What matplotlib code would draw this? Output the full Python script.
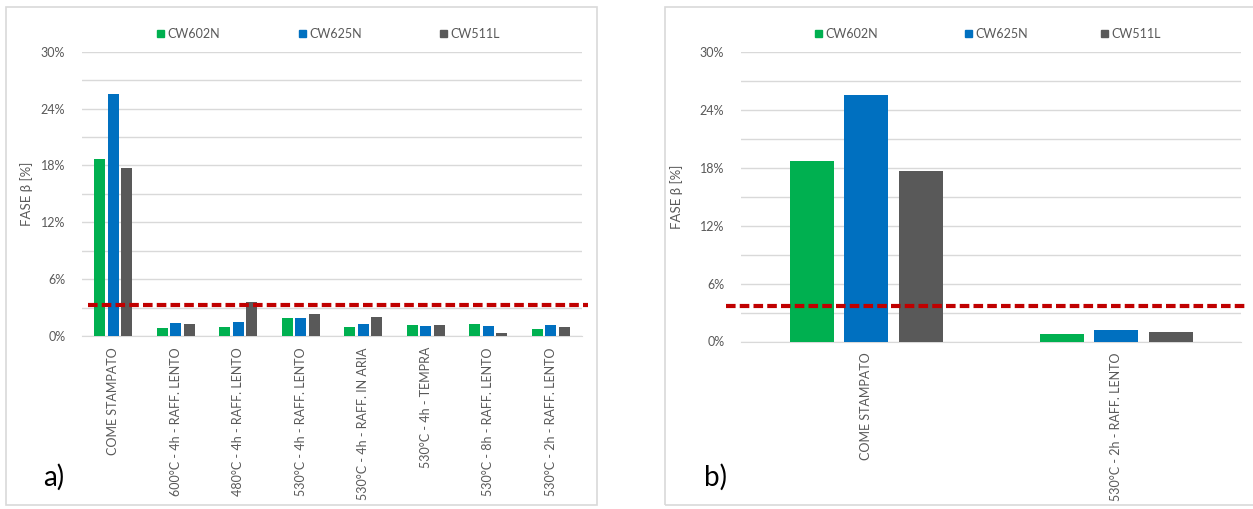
import matplotlib
matplotlib.use("Agg")
import matplotlib.pyplot as plt
import numpy as np
from matplotlib.patches import Rectangle
from matplotlib.ticker import FuncFormatter, MultipleLocator

plt.rcParams['font.family'] = ['Lato', 'DejaVu Sans']

# Heat-treatment conditions
categories_a = [
    "COME STAMPATO",
    "600°C - 4h - RAFF. LENTO",
    "480°C - 4h - RAFF. LENTO",
    "530°C - 4h - RAFF. LENTO",
    "530°C - 4h - RAFF. IN ARIA",
    "530°C - 4h - TEMPRA",
    "530°C - 8h - RAFF. LENTO",
    "530°C - 2h - RAFF. LENTO",
]
series_names = ["CW602N", "CW625N", "CW511L"]

# beta-phase content [%] for each alloy
cw602n = [18.65, 0.8, 0.9, 1.9, 1.0, 1.15, 1.25, 0.75]
cw625n = [25.5, 1.35, 1.5, 1.85, 1.27, 1.1, 1.1, 1.18]
cw511l = [17.7, 1.3, 3.55, 2.3, 2.0, 1.2, 0.35, 1.0]

# panel b: as-cast vs. the selected treatment
categories_b = ["COME STAMPATO", "530°C - 2h - RAFF. LENTO"]
idx_b = [0, 7]

# threshold lines
threshold_a = 3.25
threshold_b = 3.7

colors = ["#00B050", "#0070C0", "#595959"]
text_gray = "#595959"
grid_gray = "#D9D9D9"
red = "#C00000"

W, H = 1253, 509
fig = plt.figure(figsize=(W / 100, H / 100), dpi=100)


def fx(px):
    return px / W


def fy(py):
    return 1 - py / H


# panel frames
fig.patches.append(Rectangle((fx(6), fy(505)), fx(597 - 6), (505 - 7) / H,
                             transform=fig.transFigure, fill=False,
                             edgecolor=grid_gray, linewidth=1.2))
fig.patches.append(Rectangle((fx(665), fy(505)), fx(1300 - 665), (505 - 7) / H,
                             transform=fig.transFigure, fill=False,
                             edgecolor=grid_gray, linewidth=1.2))


def panel(x0, x1, ytop, ybot, cats, data, thr, line_x, legend_x, ylab_x, letter, letter_x):
    ax = fig.add_axes([fx(x0), fy(ybot), fx(x1 - x0), (ybot - ytop) / H])
    n = len(cats)
    x = np.arange(n)
    width = 0.176
    step = 0.218
    for k, (vals, c) in enumerate(zip(data, colors)):
        ax.bar(x + (k - 1) * step, vals, width=width, color=c, zorder=3)
    ax.set_xlim(-0.5, n - 0.5)
    ax.set_ylim(0, 30)
    ax.yaxis.set_major_locator(MultipleLocator(6))
    ax.yaxis.set_minor_locator(MultipleLocator(3))
    ax.yaxis.set_major_formatter(FuncFormatter(lambda v, p: f"{v:.0f}%"))
    ax.grid(axis="y", which="both", color=grid_gray, linewidth=1.0, zorder=0)
    for s in ax.spines.values():
        s.set_visible(False)
    ax.spines["bottom"].set_visible(True)
    ax.spines["bottom"].set_color(grid_gray)
    ax.tick_params(axis="y", which="both", length=0, pad=12, labelsize=9, labelcolor=text_gray)
    ax.tick_params(axis="x", length=0, pad=8, labelsize=9, labelcolor=text_gray)
    ax.set_xticks(x)
    ax.set_xticklabels(cats, rotation=90, va="top", ha="center")
    ax.set_ylabel("FASE β [%]", fontsize=9.5, color=text_gray)
    ax.yaxis.set_label_coords((ylab_x - x0) / (x1 - x0), 0.5)
    # threshold line across the plot
    xa = (line_x[0] - x0) / (x1 - x0)
    xb = (line_x[1] - x0) / (x1 - x0)
    ax.plot([xa, xb], [thr, thr], transform=ax.get_yaxis_transform(),
            color=red, linewidth=3, linestyle=(0, (2.3, 1.0)),
            solid_capstyle="butt", dash_capstyle="butt", zorder=5, clip_on=False)
    # legend entries
    for name, c, lx in zip(series_names, colors, legend_x):
        fig.patches.append(Rectangle((fx(lx), fy(37)), fx(7), 7 / H,
                                     transform=fig.transFigure, color=c))
        fig.text(fx(lx + 10), fy(33.5), name, fontsize=9, color=text_gray,
                 va="center", ha="left")
    fig.text(fx(letter_x), fy(477), letter, fontsize=20, color="black",
             va="center", ha="left")
    return ax


data_a = [cw602n, cw625n, cw511l]
data_b = [[s[i] for i in idx_b] for s in data_a]

panel(82, 582, 51.7, 336, categories_a, data_a, threshold_a, (88, 588),
      (157, 299, 440), 33, "a)", 43)
panel(741, 1241, 51.7, 341.5, categories_b, data_b, threshold_b, (726, 1247),
      (815, 965, 1101), 683, "b)", 704)

fig.savefig("out.png", dpi=100, facecolor="white")
